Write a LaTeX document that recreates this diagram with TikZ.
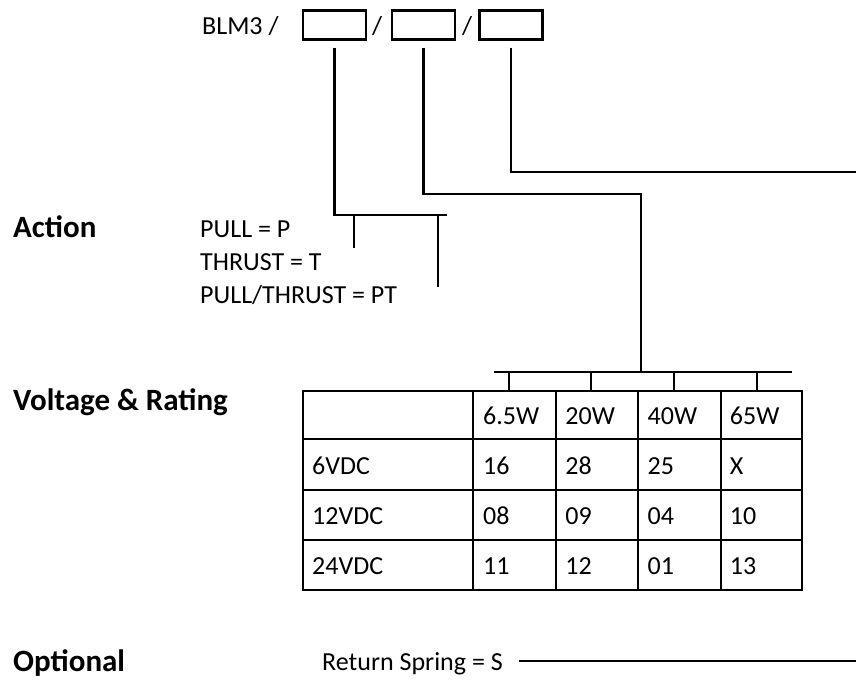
\documentclass[tikz,border=0pt]{standalone}
\usepackage{fontspec}
\setmainfont{Carlito}
\usetikzlibrary{positioning}

\tikzset{
  wire/.style={line width=2.2pt},
  codebox/.style={draw,line width=2.2pt,minimum width=63pt,minimum height=29pt,inner sep=0pt},
  lbl/.style={anchor=base west,inner sep=0pt},
  heading/.style={lbl,font=\fontsize{31}{36}\selectfont\bfseries},
  cell/.style={lbl}
}

\begin{document}
\begin{tikzpicture}[x=1pt,y=-1pt,font=\fontsize{26}{30}\selectfont]
\useasboundingbox (0,0) rectangle (856,681);
% part number
\node[lbl] (blm) at (202,34) {BLM3 /};
\node[codebox] (boxA) at (334.5,25) {};
\node[lbl] (slA) at (372,34) {/};
\node[codebox] (boxB) at (423.5,25) {};
\node[lbl] (slB) at (462,34) {/};
\node[codebox] (boxC) at (511,25) {};
% headings
\node[heading] (act) at (13,237) {Action};
\node[heading] (volt) at (13,410) {Voltage \& Rating};
\node[heading] (opt) at (13,671) {Optional};
% action choices
\node[lbl] (pull) at (200,237) {PULL = P};
\node[lbl] (thr) at (200,270) {THRUST = T};
\node[lbl] (pt) at (200,303) {PULL/THRUST = PT};
% table grid
\draw[wire] (303,391) rectangle (802,590);
\foreach \y in {439,490,540} \draw[wire] (303,\y) -- (802,\y);
\foreach \x in {473,556,638,721} \draw[wire] (\x,391) -- (\x,590);
% table texts
\foreach \t [count=\i from 0] in {6.5W,20W,40W,65W}
  \node[cell] (h\i) at ({483+82.25*\i},424) {\t};
\foreach \r/\a/\b/\c/\d [count=\j from 1] in {6VDC/16/28/25/X,12VDC/08/09/04/10,24VDC/11/12/01/13}{
  \node[cell] (r\j) at (312,{424+50*\j}) {\r};
  \node[cell] (c\j a) at (483,{424+50*\j}) {\a};
  \node[cell] (c\j b) at (565.25,{424+50*\j}) {\b};
  \node[cell] (c\j c) at (647.5,{424+50*\j}) {\c};
  \node[cell] (c\j d) at (729.75,{424+50*\j}) {\d};
}
\node[lbl] (spring) at (322,670) {Return Spring = S};
% connectors
\coordinate (tA) at (354,248);
\coordinate (tB) at (438,287);
\draw[wire] ([yshift=-7pt]boxA.south) |- (447,215);
\draw[wire] (tA) -- (354,215);
\draw[wire] (tB) -- (438,215);
\coordinate (busL) at (494,372);
\coordinate (busR) at (792,372);
\draw[wire] ([yshift=-7pt]boxB.south) |- (641,194) -- (641,372);
\draw[wire] (busL) -- (busR);
\foreach \x in {509,591,674,757} \draw[wire] (\x,372) -- (\x,391);
\coordinate (endC) at (856,172);
\draw[wire] ([yshift=-7pt]boxC.south) |- (endC);
\coordinate (endS) at (856,661);
\draw[wire] ([xshift=16pt,yshift=9pt]spring.base east) -- (endS);
\end{tikzpicture}
\end{document}
